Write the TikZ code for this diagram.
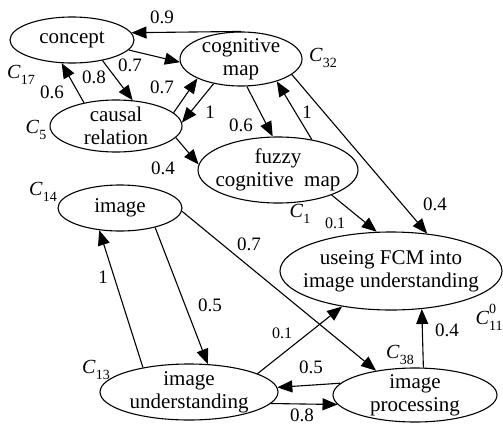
\documentclass[tikz,border=0pt]{standalone}
\usepackage{fontspec}
\setmainfont{Liberation Serif}
\usetikzlibrary{shapes.geometric,arrows.meta}
\newcommand\Cl[1]{\textit{C}\raisebox{-0.3em}{\fontsize{14}{14}\selectfont #1}}
\newcommand\Clsup[2]{\textit{C}\rlap{\raisebox{0.55em}{\fontsize{14}{14}\selectfont #2}}\raisebox{-0.3em}{\fontsize{14}{14}\selectfont #1}}
\begin{document}
\begin{tikzpicture}[x=1pt,y=-1pt,
 conc/.style={ellipse,draw,line width=1.1pt,inner xsep=-40pt,inner ysep=-20pt,align=center,font=\fontsize{21}{23}\selectfont},
 arr/.style={line width=1.1pt,-{Triangle[length=15pt,width=12pt]}},
 wlab/.style={inner sep=0pt,font=\fontsize{19}{19}\selectfont},
 slab/.style={inner sep=0pt,font=\fontsize{16}{16}\selectfont},
 clab/.style={inner sep=0pt,font=\fontsize{20}{20}\selectfont}]
\useasboundingbox (0,0) rectangle (503,426);

% concepts
\node[conc,minimum width=124pt,minimum height=46pt] (C) at (72,40) {concept};
\node[conc,minimum width=122pt,minimum height=54pt] (G) at (241,59) {cognitive\\map};
\node[conc,minimum width=132pt,minimum height=52pt] (R) at (116,126) {causal\\relation};
\node[conc,minimum width=160pt,minimum height=66pt] (F) at (278,170) {fuzzy\\cognitive\ \ map};
\node[conc,minimum width=124pt,minimum height=46pt] (I) at (120,208) {image};
\node[conc,minimum width=178pt,minimum height=56pt] (U) at (189,392) {image\\understanding};
\node[conc,minimum width=222pt,minimum height=78pt] (S) at (391,271) {useing FCM into\\image understanding};
\node[conc,minimum width=164pt,minimum height=54pt] (P) at (415,395) {image\\processing};

% concept labels
\node[clab] (c17) at (21,75) {\Cl{17}};
\node[clab] (c5) at (36,130) {\Cl{5}};
\node[clab] (c32) at (323,58) {\Cl{32}};
\node[clab] (c1) at (300,214) {\Cl{1}};
\node[clab] (c14) at (43,192) {\Cl{14}};
\node[clab] (c13) at (96,370) {\Cl{13}};
\node[clab] (c38) at (400,355) {\Cl{38}};
\node[clab] (c11) at (489,317) {\Clsup{11}{0}};

% connectors
\draw[arr] (G.north) -- (C.7);
\draw[arr] (C.-10) -- (G.183);
\draw[arr] (C.-34) -- (R.57);
\draw[arr] (R.144) -- (C.246);
\draw[arr] (R.13) -- (G.204);
\draw[arr] (G.222) -- (R.3);
\draw[arr] (G.282) -- (F.99);
\draw[arr] (F.42) -- (G.-32);
\draw[arr] (R.-11) -- (F.176);
\draw[arr] (G.-17) -- (S.46);
\draw[arr] (F.-25) -- (S.110);
\draw[arr] (I.-3) -- (P.148);
\draw[arr] (I.-29) -- (U.56);
\draw[arr] (U.152) -- (I.227);
\draw[arr] (U.15) -- (S.216);
\draw[arr] (P.171) -- (U.3);
\draw[arr] (U.-8) -- (P.187);
\draw[arr] (P.73) -- (S.-51);

% weights
\node[wlab] (w1) at (162,17) {0.9};
\node[wlab] (w2) at (130,65) {0.7};
\node[wlab] (w3) at (94,77) {0.8};
\node[wlab] (w4) at (52,92) {0.6};
\node[wlab] (w5) at (162,87) {0.7};
\node[wlab] (w6) at (210,112) {1};
\node[wlab] (w7) at (241,125) {0.6};
\node[wlab] (w8) at (307,112) {1};
\node[wlab] (w9) at (163,168) {0.4};
\node[slab] (w10) at (335,223) {0.1};
\node[wlab] (w11) at (435,204) {0.4};
\node[wlab] (w12) at (249,244) {0.7};
\node[wlab] (w13) at (103,277) {1};
\node[wlab] (w14) at (210,305) {0.5};
\node[slab] (w15) at (282,333) {0.1};
\node[wlab] (w16) at (311,367) {0.5};
\node[wlab] (w17) at (302,415) {0.8};
\node[wlab] (w18) at (447,330) {0.4};
\end{tikzpicture}
\end{document}
